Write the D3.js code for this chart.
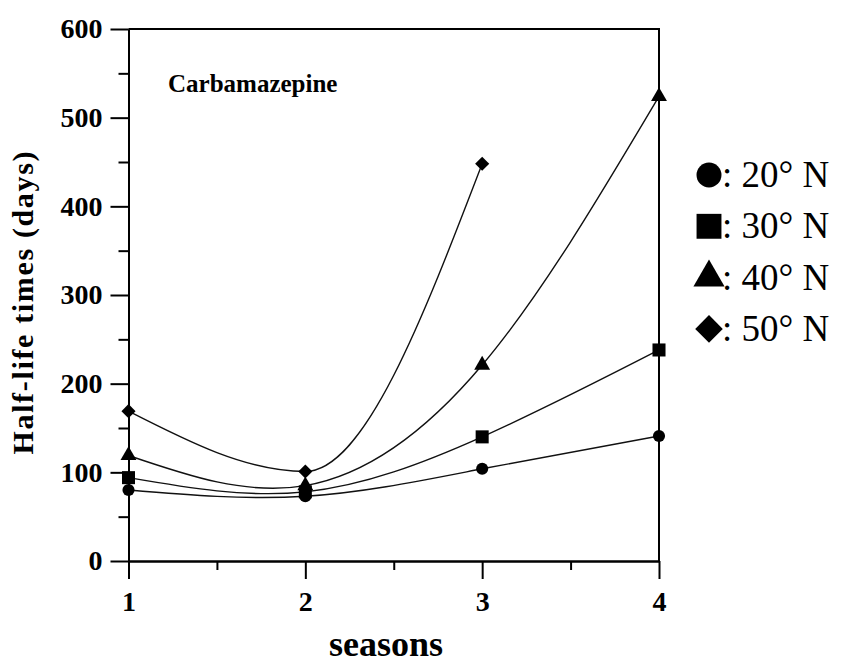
<!DOCTYPE html>
<html>
<head>
<meta charset="utf-8">
<script src="https://cdn.jsdelivr.net/npm/d3@7"></script>
<style>
  body { margin: 0; background: #fff; }
  svg { display: block; font-family: "Liberation Serif", "Times New Roman", serif; }
  .axis path, .axis line { stroke: #000; stroke-width: 2; }
  .axis text { font-family: "Liberation Serif", "Times New Roman", serif; font-size: 28px; font-weight: bold; fill: #000; }
</style>
</head>
<body>
<svg id="chart" width="845" height="663"></svg>
<script>
// chart data
const seasons = [1, 2, 3, 4];
const lat20 = [80, 73, 104, 141];
const lat30 = [94, 78, 140, 238];
const lat40 = [119, 85, 221, 524];
const lat50 = [169, 101, 448];
const yTicks = [0, 100, 200, 300, 400, 500, 600];
const yMinor = [50, 150, 250, 350, 450, 550];
const xMinor = [1.5, 2.5, 3.5];
const seriesNames = ["20\u00b0 N", "30\u00b0 N", "40\u00b0 N", "50\u00b0 N"];

const series = [
  { name: seriesNames[0], values: lat20, shape: "circle" },
  { name: seriesNames[1], values: lat30, shape: "square" },
  { name: seriesNames[2], values: lat40, shape: "triangle" },
  { name: seriesNames[3], values: lat50, shape: "diamond" }
];

const svg = d3.select("#chart");
const plotL = 128.5, plotR = 659, plotT = 29, plotB = 561;

const x = d3.scaleLinear().domain([1, 4]).range([plotL, plotR]);
const y = d3.scaleLinear().domain([0, 600]).range([plotB, plotT]);

// axes
svg.append("g").attr("class", "axis").attr("transform", `translate(0,${plotB})`)
  .call(d3.axisBottom(x).tickValues(seasons).tickFormat(d3.format("d")).tickSize(18).tickPadding(12).tickSizeOuter(0));
svg.append("g").attr("class", "axis").attr("transform", `translate(0,${plotB})`)
  .call(d3.axisBottom(x).tickValues(xMinor).tickFormat("").tickSize(9).tickSizeOuter(0));
svg.append("g").attr("class", "axis").attr("transform", `translate(${plotL},0)`)
  .call(d3.axisLeft(y).tickValues(yTicks).tickFormat(d3.format("d")).tickSize(18).tickPadding(8).tickSizeOuter(0));
svg.append("g").attr("class", "axis").attr("transform", `translate(${plotL},0)`)
  .call(d3.axisLeft(y).tickValues(yMinor).tickFormat("").tickSize(10).tickSizeOuter(0));

// top and right frame
svg.append("path")
  .attr("d", `M${plotL},${plotT}H${plotR}V${plotB}`)
  .attr("fill", "none").attr("stroke", "#000").attr("stroke-width", 2);

// symbols
function symbolPath(shape, size) {
  if (shape === "circle") return d3.symbol(d3.symbolCircle, size)();
  if (shape === "triangle") return d3.symbol(d3.symbolTriangle, size)();
  return d3.symbol(d3.symbolSquare, size)();
}
const markSize = { circle: 115, square: 170, triangle: 110, diamond: 100 };
const legendSize = { circle: 490, square: 620, triangle: 420, diamond: 380 };

// curves
series.forEach(s => {
  const pts = s.values.map((v, i) => [seasons[i], v]);
  const curve = pts.length < 4 ? d3.curveMonotoneX : d3.curveNatural;
  const line = d3.line().x(d => x(d[0])).y(d => y(d[1])).curve(curve);
  svg.append("path").datum(pts)
    .attr("d", line)
    .attr("fill", "none").attr("stroke", "#111").attr("stroke-width", 1.4);
});

series.forEach(s => {
  svg.append("g").selectAll("path")
    .data(s.values.map((v, i) => [seasons[i], v]))
    .join("path")
    .attr("d", symbolPath(s.shape, markSize[s.shape]))
    .attr("transform", d => `translate(${x(d[0])},${y(d[1])})` + (s.shape === "diamond" ? " rotate(45)" : ""))
    .attr("fill", "#000");
});

// annotation
svg.append("text").attr("x", 168).attr("y", 92)
  .attr("font-size", 25).attr("font-weight", "bold").text("Carbamazepine");

// axis titles
svg.append("text")
  .attr("transform", `translate(33,303) rotate(-90)`)
  .attr("text-anchor", "middle").attr("font-size", 30).attr("font-weight", "bold")
  .attr("textLength", 303).attr("lengthAdjust", "spacing")
  .text("Half-life times  (days)");
svg.append("text").attr("x", 386).attr("y", 656)
  .attr("text-anchor", "middle").attr("font-size", 36).attr("font-weight", "bold")
  .text("seasons");

// legend
const legend = svg.append("g");
series.forEach((s, i) => {
  const cy = 175 + i * 51.3;
  legend.append("path")
    .attr("d", symbolPath(s.shape, legendSize[s.shape]))
    .attr("transform", `translate(709,${cy})` + (s.shape === "diamond" ? " rotate(45)" : ""))
    .attr("fill", "#000");
  legend.append("text").attr("x", 722).attr("y", cy + 12)
    .attr("font-size", 37).text(": " + s.name);
});
</script>
</body>
</html>
